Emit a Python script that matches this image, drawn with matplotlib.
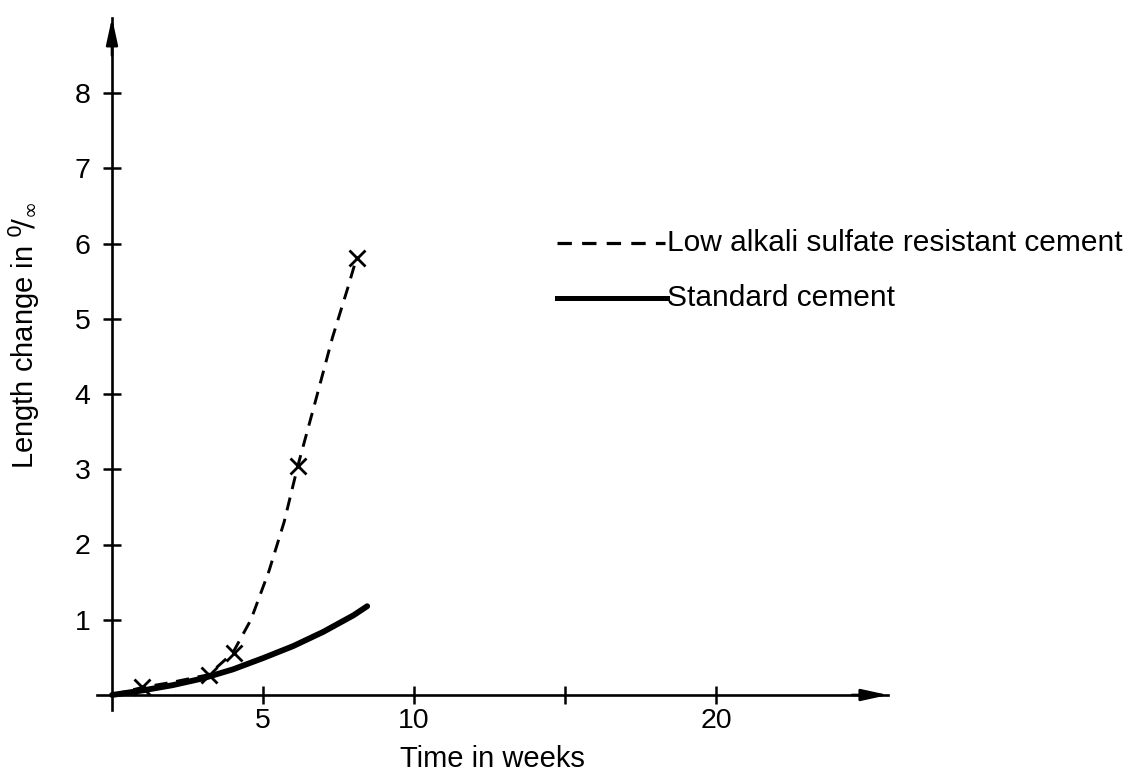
import matplotlib
matplotlib.use("Agg")
import matplotlib.pyplot as plt
from matplotlib.lines import Line2D

plt.rcParams['font.family'] = ['Liberation Sans', 'DejaVu Sans']

# ---- data ----
low_alkali_curve_x = [0.0, 1.0, 2.0, 3.2, 4.0, 4.6, 5.2, 5.7, 6.15, 6.7, 7.3, 7.8, 8.1]
low_alkali_curve_y = [0.0, 0.1, 0.17, 0.27, 0.56, 1.0, 1.65, 2.3, 3.04, 3.85, 4.75, 5.4, 5.81]
low_alkali_marks_x = [1.0, 3.2, 4.05, 6.15, 8.1]
low_alkali_marks_y = [0.10, 0.27, 0.56, 3.04, 5.81]
standard_x = [0.0, 1.0, 2.0, 3.0, 4.0, 5.0, 6.0, 7.0, 8.0, 8.45]
standard_y = [0.0, 0.06, 0.13, 0.22, 0.34, 0.49, 0.65, 0.84, 1.06, 1.18]
x_ticks = [5, 10, 15, 20]
x_tick_labels = ['5', '10', '', '20']
y_ticks = [1, 2, 3, 4, 5, 6, 7, 8]
y_tick_labels = ['1', '2', '3', '4', '5', '6', '7', '8']
series_labels = ['Low alkali sulfate resistant cement', 'Standard cement']

W, H = 1129, 773
fig = plt.figure(figsize=(W / 100, H / 100), dpi=100)

xmin, xmax = -0.5, 25.7
ymin, ymax = -0.2, 9.0
px_per_x = 30.2
px_per_y = 75.25
x0_px, y0_px = 112, 695
left = x0_px + xmin * px_per_x
right = x0_px + xmax * px_per_x
bottom = y0_px - ymin * px_per_y
top = y0_px - ymax * px_per_y
ax = fig.add_axes([left / W, (H - bottom) / H, (right - left) / W, (bottom - top) / H])
ax.set_xlim(xmin, xmax)
ax.set_ylim(ymin, ymax)

for s in ['top', 'right']:
    ax.spines[s].set_visible(False)
ax.spines['left'].set_position(('data', 0))
ax.spines['bottom'].set_position(('data', 0))
ax.spines['left'].set_linewidth(1.9)
ax.spines['bottom'].set_linewidth(1.9)

# arrowheads
ax.annotate('', xy=(xmax, 0), xytext=(xmax - 1.2, 0),
            arrowprops=dict(arrowstyle='-|>,head_length=1.6,head_width=0.35',
                            color='black', lw=1.9, shrinkA=0, shrinkB=0))
ax.annotate('', xy=(0, ymax), xytext=(0, ymax - 0.5),
            arrowprops=dict(arrowstyle='-|>,head_length=1.6,head_width=0.35',
                            color='black', lw=1.9, shrinkA=0, shrinkB=0))

ax.set_xticks(x_ticks)
ax.set_xticklabels(x_tick_labels)
ax.set_yticks(y_ticks)
ax.set_yticklabels(y_tick_labels)
ax.tick_params(axis='both', direction='inout', length=13, width=1.8,
               labelsize=20.5, colors='black')
ax.tick_params(axis='x', pad=3)
ax.tick_params(axis='y', pad=9)

# series
ax.plot(standard_x, standard_y, color='black', lw=4.2, solid_capstyle='round', zorder=3)
ax.plot(low_alkali_curve_x, low_alkali_curve_y, color='black', lw=2.1,
        dashes=(4.5, 3), zorder=3)
ax.plot(low_alkali_marks_x, low_alkali_marks_y, linestyle='none', marker='x',
        color='black', markersize=12, mew=2.0, zorder=4)

# axis labels
fig.text(492 / W, 1 - 759 / H, 'Time in weeks', fontsize=21, ha='center', va='center')
fig.text(24 / W, 1 - 335 / H, r'Length change in $^{\mathsf{0}}\!/_{\infty}$',
         fontsize=21, ha='center', va='center', rotation=90)

# legend (drawn manually)
fig.add_artist(Line2D([557 / W, 665 / W], [1 - 243 / H, 1 - 243 / H], color='black',
                      lw=2.3, dashes=(4.5, 3.2)))
fig.add_artist(Line2D([557 / W, 667 / W], [1 - 298 / H, 1 - 298 / H], color='black', lw=3.6))
fig.text(667 / W, 1 - 243 / H, series_labels[0], fontsize=21.5, ha='left', va='center')
fig.text(667 / W, 1 - 298 / H, series_labels[1], fontsize=21.5, ha='left', va='center')

fig.savefig('out.png', dpi=100, facecolor='white')
